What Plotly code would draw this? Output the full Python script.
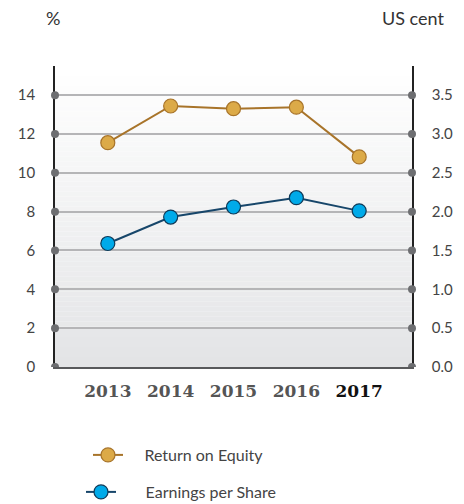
import plotly.graph_objects as go

years = ["2013", "2014", "2015", "2016", "2017"]
roe = [11.55, 13.44, 13.3, 13.38, 10.82]          # %
eps = [1.59, 1.93, 2.06, 2.18, 2.01]              # US cent
left_ticks = [0, 2, 4, 6, 8, 10, 12, 14]
right_ticks = [0.0, 0.5, 1.0, 1.5, 2.0, 2.5, 3.0, 3.5]
right_ticktext = ["0.0", "0.5", "1.0", "1.5", "2.0", "2.5", "3.0", "3.5"]
year_ticktext = ["<b>2013</b>", "<b>2014</b>", "<b>2015</b>", "<b>2016</b>",
                 "<b><span style='color:#111'>2017</span></b>"]

W, H = 464, 540
L, R, T = 55, 52, 66
PLOT_BOTTOM = 367
B = H - PLOT_BOTTOM
PH = H - T - B
YMAX = 15.5
fig = go.Figure()

fig.add_trace(go.Scatter(
    x=years, y=roe, name="&nbsp;" * 4 + "Return on Equity", mode="lines+markers",
    line=dict(color="#a8742a", width=2),
    marker=dict(size=14, color="#dcaa48", line=dict(color="#a8742a", width=1.2)),
    legend="legend", yaxis="y"))
fig.add_trace(go.Scatter(
    x=years, y=eps, name="&nbsp;" * 6 + "Earnings per Share", mode="lines+markers",
    line=dict(color="#17466a", width=2),
    marker=dict(size=14, color="#00aae9", line=dict(color="#0e3a58", width=1.2)),
    legend="legend2", yaxis="y2"))

# gradient background
n = 60
c0 = (255, 255, 255)
c1 = (227, 228, 230)
for i in range(n):
    t = i / (n - 1)
    col = tuple(int(round(c0[k] + (c1[k] - c0[k]) * t)) for k in range(3))
    y_top = YMAX * (1 - i / n)
    y_bot = YMAX * (1 - (i + 1) / n)
    fig.add_shape(type="rect", xref="paper", yref="y", x0=0, x1=1, y0=y_bot, y1=y_top,
                  fillcolor="rgb(%d,%d,%d)" % col, line=dict(width=0), layer="below")

# tick dots on both axes
for v in left_ticks:
    for xp in (0, 1):
        fig.add_shape(type="circle", xref="paper", yref="y", xsizemode="pixel", ysizemode="pixel",
                      xanchor=xp, yanchor=v, x0=-4, x1=4, y0=-4, y1=4,
                      fillcolor="#6d6e71", line=dict(width=0), layer="above")

PW = W - L - R
leg_font = dict(family="Lato", size=16, color="#444")
fig.update_layout(
    width=W, height=H,
    margin=dict(l=L, r=R, t=T, b=B),
    paper_bgcolor="white", plot_bgcolor="white",
    font=dict(family="Lato", color="#444", size=15),
    showlegend=True,
    legend=dict(x=(88 - L) / PW, xanchor="left", y=-(438 - PLOT_BOTTOM) / PH, yanchor="top",
                font=leg_font, itemwidth=30, bgcolor="rgba(0,0,0,0)"),
    legend2=dict(x=(81 - L) / PW, xanchor="left", y=-(475 - PLOT_BOTTOM) / PH, yanchor="top",
                 font=leg_font, itemwidth=30, bgcolor="rgba(0,0,0,0)"),
    xaxis=dict(type="category", range=[-0.84, 4.84], showgrid=False, automargin=False,
               showline=True, linecolor="#58595b", linewidth=2,
               tickvals=years, ticktext=year_ticktext, ticks="", tickangle=0,
               tickfont=dict(family="DejaVu Serif", size=17, color="#555"),
               ticklabelstandoff=8, zeroline=False),
    yaxis=dict(range=[0, YMAX], tickvals=left_ticks, ticks="", showgrid=True, automargin=False,
               gridcolor="#b5b5b7", gridwidth=1.5, zeroline=False,
               showline=True, linecolor="#222", linewidth=1.5,
               ticklabelstandoff=15, tickfont=dict(size=15, color="#444")),
    yaxis2=dict(range=[0, YMAX / 4], tickvals=right_ticks, ticktext=right_ticktext,
                overlaying="y", side="right", showgrid=False, zeroline=False, ticks="",
                automargin=False,
                showline=True, linecolor="#222", linewidth=1.5,
                ticklabelstandoff=15, tickfont=dict(size=15, color="#444")),
    annotations=[
        dict(text="%", xref="paper", yref="paper", x=0, xshift=-2, y=1.0, yshift=48,
             xanchor="center", yanchor="middle", showarrow=False,
             font=dict(size=18, color="#333")),
        dict(text="US cent", xref="paper", yref="paper", x=1.0, xshift=34, y=1.0, yshift=48,
             xanchor="right", yanchor="middle", showarrow=False,
             font=dict(size=18, color="#333")),
    ],
)

fig.write_html("out.html", config={"displayModeBar": False},
               post_script="document.body.style.margin='0';document.body.style.overflow='hidden';")
